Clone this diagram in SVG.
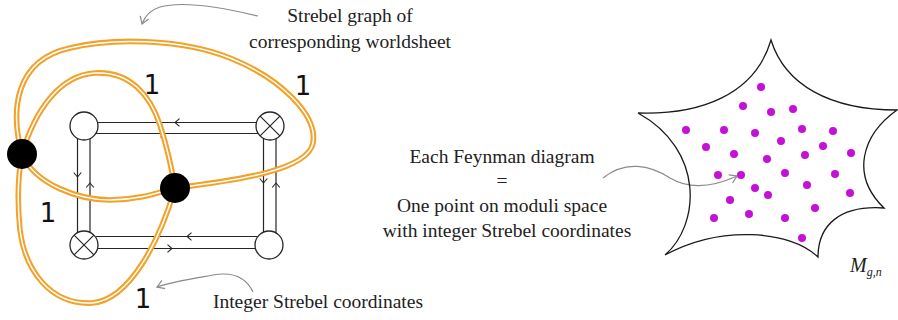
<svg xmlns="http://www.w3.org/2000/svg" width="898" height="320" viewBox="0 0 898 320">
  <style>
    .wire { fill: none; stroke: #262626; stroke-width: 1.2; }
    .vtx { fill: #ffffff; stroke: #262626; stroke-width: 1.3; }
    .band { fill: none; stroke: #f2a22a; stroke-width: 5.6; stroke-linecap: round; }
    .band-in { fill: none; stroke: #ffffff; stroke-width: 1.5; stroke-linecap: round; }
    .hub { fill: #000000; }
    .pointer { fill: none; stroke: #8a8a8a; stroke-width: 1.2; }
    .note { font-family: "Liberation Serif", "DejaVu Serif", serif; font-size: 19.5px; fill: #222222; }
    .len { font-family: "DejaVu Sans", "Liberation Sans", sans-serif; font-size: 26px; fill: #111111; }
    .pt { fill: #c312d6; }
    .edge { fill: none; stroke: #1a1a1a; stroke-width: 1.3; }
  </style>
  <defs>
    <marker id="chev" markerUnits="userSpaceOnUse" markerWidth="10" markerHeight="10" viewBox="-6 -5 10 10" refX="0" refY="0" orient="auto">
      <path d="M-4.5,-3.8 L0,0 L-4.5,3.8" fill="none" stroke="#262626" stroke-width="1.1"/>
    </marker>
    <marker id="tip" markerUnits="userSpaceOnUse" markerWidth="14" markerHeight="14" viewBox="-10 -7 14 14" refX="0" refY="0" orient="auto">
      <path d="M-7,-4.5 L0,0 L-7,4.5" fill="none" stroke="#8a8a8a" stroke-width="1.2"/>
    </marker>
  </defs>

  <!-- ribbon graph: double lines with flow arrows -->
  <g id="connectors">
    <path class="wire" d="M258,122.5 L175,122.5 L96,122.5" marker-mid="url(#chev)"/>
    <path class="wire" d="M96,133.5 L165,133.5 L258,133.5" marker-mid="url(#chev)"/>
    <path class="wire" d="M257,236.5 L187,236.5 L96,236.5" marker-mid="url(#chev)"/>
    <path class="wire" d="M96,248.5 L172,248.5 L257,248.5" marker-mid="url(#chev)"/>
    <path class="wire" d="M77.5,138 L77.5,177 L77.5,233" marker-mid="url(#chev)"/>
    <path class="wire" d="M90,233 L90,183 L90,138" marker-mid="url(#chev)"/>
    <path class="wire" d="M263.5,138 L263.5,183 L263.5,233" marker-mid="url(#chev)"/>
    <path class="wire" d="M276,233 L276,183 L276,138" marker-mid="url(#chev)"/>
  </g>

  <g id="v-top-left">
    <circle class="vtx" cx="84" cy="126" r="14"/>
  </g>
  <g id="v-top-right">
    <circle class="vtx" cx="270" cy="126" r="14"/>
    <path class="wire" d="M260.1,116.1 L279.9,135.9 M279.9,116.1 L260.1,135.9"/>
  </g>
  <g id="v-bottom-left">
    <circle class="vtx" cx="84" cy="245" r="14"/>
    <path class="wire" d="M74.1,235.1 L93.9,254.9 M93.9,235.1 L74.1,254.9"/>
  </g>
  <g id="v-bottom-right">
    <circle class="vtx" cx="269" cy="245" r="14"/>
  </g>

  <!-- Strebel graph edges -->
  <g id="strebel-edges">
    <path id="e-outer" class="band" d="M22,154 C10,110 15,60 70,48 C110,38 180,38 230,58 C280,78 318,115 313,143 C308,170 240,180 175,188"/>
    <path class="band-in" d="M22,154 C10,110 15,60 70,48 C110,38 180,38 230,58 C280,78 318,115 313,143 C308,170 240,180 175,188"/>
    <path id="e-inner" class="band" d="M22,154 C35,110 60,75 95,73 C130,71 150,95 160,125 C168,150 172,170 175,188"/>
    <path class="band-in" d="M22,154 C35,110 60,75 95,73 C130,71 150,95 160,125 C168,150 172,170 175,188"/>
    <path id="e-lower" class="band" d="M175,188 C160,240 130,300 92,303 C50,305 25,270 20,230 C17,200 18,175 22,154"/>
    <path class="band-in" d="M175,188 C160,240 130,300 92,303 C50,305 25,270 20,230 C17,200 18,175 22,154"/>
    <path id="e-direct" class="band" d="M22,154 C35,185 80,200 110,200 C140,200 160,192 175,188"/>
    <path class="band-in" d="M22,154 C35,185 80,200 110,200 C140,200 160,192 175,188"/>
  </g>

  <g id="hub-left">
    <circle class="hub" cx="22" cy="154" r="15"/>
  </g>
  <g id="hub-center">
    <circle class="hub" cx="175" cy="188" r="15"/>
  </g>

  <!-- edge lengths -->
  <text class="len" x="152" y="94" text-anchor="middle">1</text>
  <text class="len" x="303" y="95" text-anchor="middle">1</text>
  <text class="len" x="48" y="222" text-anchor="middle">1</text>
  <text class="len" x="143" y="308" text-anchor="middle">1</text>

  <!-- annotations -->
  <g id="pointers">
    <path class="pointer" d="M258,16 C225,8 185,0 160,7 C150,10 145,16 142,24" marker-end="url(#tip)"/>
    <path class="pointer" d="M253,292 C245,275 230,272 213,275 C190,279 170,282 157,287" marker-end="url(#tip)"/>
    <path class="pointer" d="M603,178 C625,160 650,165 670,178 C690,190 715,186 737,176" marker-end="url(#tip)"/>
  </g>

  <text class="note" x="350" y="22" text-anchor="middle">Strebel graph of</text>
  <text class="note" x="350" y="48" text-anchor="middle">corresponding worldsheet</text>
  <text class="note" x="318" y="308" text-anchor="middle">Integer Strebel coordinates</text>

  <text class="note" x="502" y="163" text-anchor="middle">Each Feynman diagram</text>
  <text class="note" x="502" y="187" text-anchor="middle">=</text>
  <text class="note" x="502" y="212" text-anchor="middle">One point on moduli space</text>
  <text class="note" x="507" y="237" text-anchor="middle">with integer Strebel coordinates</text>

  <!-- moduli space -->
  <g id="moduli-space">
    <path class="edge" d="M771,40 C785,85 830,110 897,110 C862,135 850,175 884,208 C840,205 818,225 818,257 C790,230 720,225 665,255 C700,225 705,150 638,113 C700,115 755,95 771,40 Z"/>
    <g class="pt">
      <circle cx="761" cy="87" r="4"/>
      <circle cx="743" cy="106" r="4"/>
      <circle cx="771" cy="112" r="4"/>
      <circle cx="793" cy="109" r="4"/>
      <circle cx="686" cy="130" r="4"/>
      <circle cx="724" cy="130" r="4"/>
      <circle cx="755" cy="133" r="4"/>
      <circle cx="802" cy="129" r="4"/>
      <circle cx="833" cy="131" r="4"/>
      <circle cx="781" cy="141" r="4"/>
      <circle cx="706" cy="147" r="4"/>
      <circle cx="823" cy="146" r="4"/>
      <circle cx="734" cy="154" r="4"/>
      <circle cx="805" cy="155" r="4"/>
      <circle cx="851" cy="153" r="4"/>
      <circle cx="767" cy="159" r="4"/>
      <circle cx="718" cy="175" r="4"/>
      <circle cx="741" cy="175" r="4"/>
      <circle cx="785" cy="173" r="4"/>
      <circle cx="835" cy="174" r="4"/>
      <circle cx="755" cy="188" r="4"/>
      <circle cx="768" cy="195" r="4"/>
      <circle cx="807" cy="185" r="4"/>
      <circle cx="850" cy="193" r="4"/>
      <circle cx="730" cy="200" r="4"/>
      <circle cx="815" cy="208" r="4"/>
      <circle cx="714" cy="218" r="4"/>
      <circle cx="749" cy="214" r="4"/>
      <circle cx="785" cy="218" r="4"/>
      <circle cx="802" cy="238" r="4"/>
    </g>
    <text font-family="Liberation Serif, serif" font-style="italic" font-size="20" fill="#222" x="850" y="272">M<tspan font-size="12" dy="4">g,n</tspan></text>
  </g>
</svg>
